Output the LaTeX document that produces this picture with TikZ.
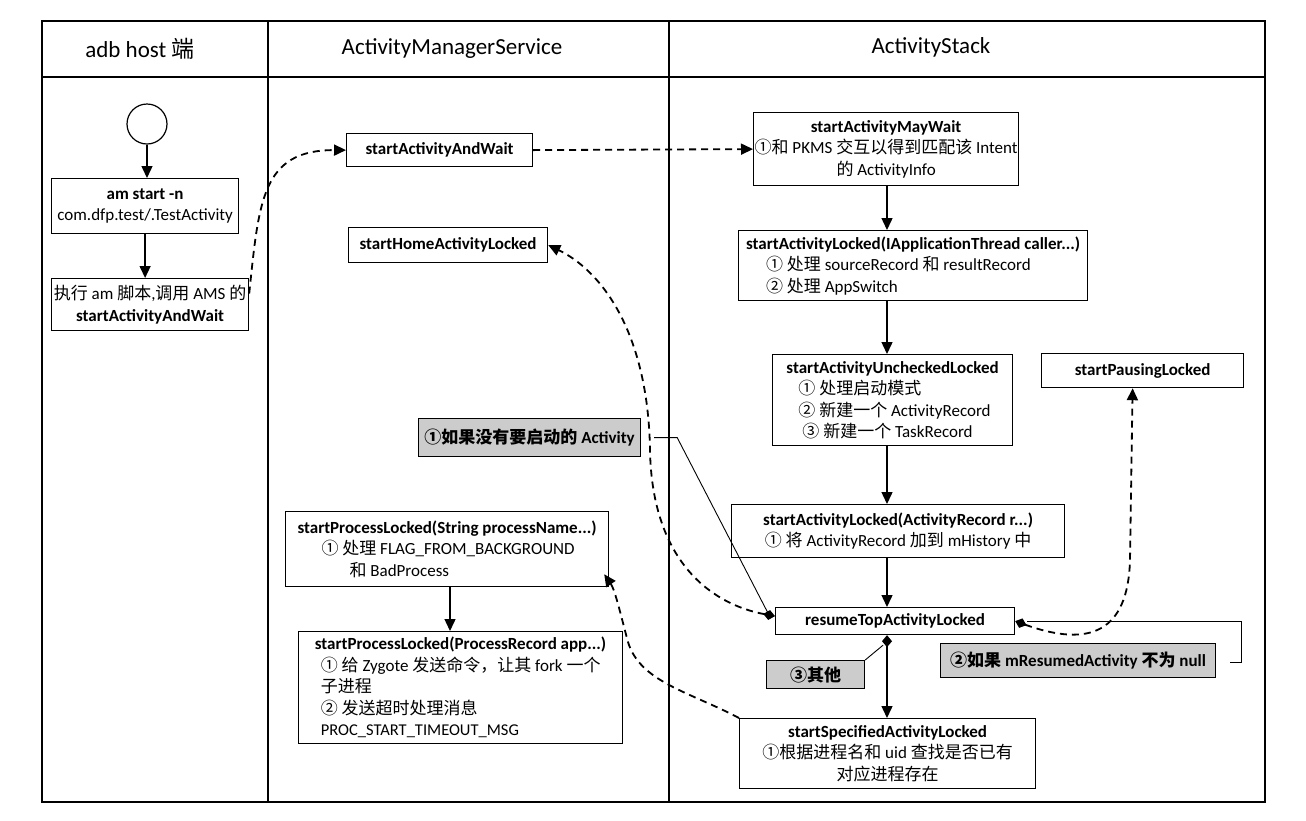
\documentclass[tikz,border=0pt]{standalone}
\usepackage{fontspec}
\setmainfont{Carlito}
\newfontfamily\cjk{Noto Sans CJK SC}
\newcommand\zh[1]{{\cjk #1}}
\newcommand\fsbox{\fontsize{17}{21.5}\selectfont}
\newcommand\fshead{\fontsize{23}{27}\selectfont}
\newcommand\fssmall{\fontsize{16.5}{21.5}\selectfont}
\usetikzlibrary{arrows.meta,calc}
\tikzset{
  tri/.tip={Triangle[length=12pt,width=11pt]},
  dm/.tip={Diamond[length=12pt,width=10pt]},
  box/.style={draw, line width=1.2pt, fill=white, inner sep=1pt, font=\fsbox, anchor=north west},
  note/.style={draw, line width=1.2pt, fill=gray!40, inner sep=1pt, font=\fsbox\bfseries, anchor=north west},
  arr/.style={line width=1.4pt, -tri},
  darr/.style={line width=1.8pt, dash pattern=on 7pt off 5pt, -tri},
  cline/.style={line width=0.9pt},
  lane/.style={line width=1.3pt},
}
\begin{document}
\begin{tikzpicture}[x=1pt,y=-1pt]
\useasboundingbox[fill=white] (0,0) rectangle (1306,820);
% swimlanes
\draw[lane] (42,21) rectangle (1265,802);
\draw[lane] (42,77) -- (1265,77);
\draw[lane] (268,21) -- (268,802);
\draw[lane] (669,21) -- (669,802);
\node[font=\fshead] (h1) at (140,49) {adb host \zh{端}};
\node[font=\fshead] (h2) at (452,49) {ActivityManagerService};
\node[font=\fshead] (h3) at (931,47) {ActivityStack};
\coordinate (ax) at (887,0);
\coordinate (bx) at (450,0);
% adb host lane
\node[draw, circle, line width=1.2pt, minimum size=40pt, inner sep=0pt] (start) at (147,124) {};
\node[box, align=center, minimum width=187pt, minimum height=55pt] (amstart) at (51,178)
  {\textbf{am start -n}\\com.dfp.test/.TestActivity};
\node[box, align=center, minimum width=197pt, minimum height=52pt] (exec) at (51,278)
  {\zh{执行} am \zh{脚本},\zh{调用} AMS \zh{的}\\\textbf{startActivityAndWait}};
% AMS lane
\node[box, minimum width=186pt, minimum height=33pt] (saw) at (346,133) {\textbf{startActivityAndWait}};
\node[box, minimum width=199pt, minimum height=35pt] (home) at (348,227) {\textbf{startHomeActivityLocked}};
\node[note, minimum width=222pt, minimum height=38pt] (note1) at (418,418) {\zh{①如果没有要启动的} Activity};
\node[box, align=left, minimum width=323pt, minimum height=75pt] (spl1) at (285,511)
  {\textbf{startProcessLocked(String processName...)}\\
   \hspace*{24pt}\zh{①} \zh{处理} FLAG\_FROM\_BACKGROUND\\
   \hspace*{52pt}\zh{和} BadProcess};
\node[box, align=left, minimum width=324pt, minimum height=112pt] (spl2) at (298,631)
  {\textbf{startProcessLocked(ProcessRecord app...)}\\
   \hspace*{6pt}\zh{①} \zh{给} Zygote \zh{发送命令，让其} fork \zh{一个}\\
   \hspace*{6pt}\zh{子进程}\\
   \hspace*{6pt}\zh{②} \zh{发送超时处理消息}\\
   \hspace*{6pt}{\fssmall PROC\_START\_TIMEOUT\_MSG}};
% ActivityStack lane
\node[box, align=center, minimum width=265pt, minimum height=73pt] (maywait) at (753,112)
  {\textbf{startActivityMayWait}\\\zh{①和} PKMS \zh{交互以得到匹配该} Intent\\\zh{的} ActivityInfo};
\node[box, align=left, minimum width=349pt, minimum height=70pt] (sal1) at (738,230)
  {\textbf{startActivityLocked(IApplicationThread caller...)}\\
   \hspace*{20pt}\zh{①} \zh{处理} sourceRecord \zh{和} resultRecord\\
   \hspace*{20pt}\zh{②} \zh{处理} AppSwitch};
\node[box, align=left, minimum width=240pt, minimum height=91pt] (sau) at (772,354)
  {\textbf{startActivityUncheckedLocked}\\
   \hspace*{12pt}\zh{① 处理启动模式}\\
   \hspace*{12pt}\zh{② 新建一个} ActivityRecord\\
   \hspace*{16pt}\zh{③ 新建一个} TaskRecord};
\node[box, minimum width=202pt, minimum height=34pt] (pausing) at (1041,353) {\textbf{startPausingLocked}};
\node[box, align=center, minimum width=333pt, minimum height=53pt] (sal2) at (731,504)
  {\textbf{startActivityLocked(ActivityRecord r...)}\\\zh{①} \zh{将} ActivityRecord \zh{加到} mHistory \zh{中}};
\node[box, minimum width=239pt, minimum height=27pt] (resume) at (775,607) {\textbf{resumeTopActivityLocked}};
\node[note, minimum width=98pt, minimum height=28pt] (note3) at (766,660) {\zh{③其他}};
\node[note, minimum width=275pt, minimum height=34pt] (note2) at (940,643) {\zh{②如果} mResumedActivity \zh{不为} null};
\node[box, align=center, minimum width=296pt, minimum height=70pt] (specified) at (739,718)
  {\textbf{startSpecifiedActivityLocked}\\\zh{①根据进程名和} uid \zh{查找是否已有}\\\zh{对应进程存在}};
% connectors
\draw[arr] (start.south) -- (start.south |- amstart.north);
\draw[arr] (amstart.south) -- (amstart.south |- exec.north);
\draw[darr] ($(exec.east)+(0,-11)$) .. controls (259,200) and (262,150) .. (saw.west);
\draw[darr] (saw.east) -- (maywait.west);
\draw[arr] (maywait.south -| ax) -- (sal1.north -| ax);
\draw[arr] (sal1.south -| ax) -- (sau.north -| ax);
\draw[arr] (sau.south -| ax) -- (sal2.north -| ax);
\draw[arr] (sal2.south -| ax) -- (resume.north -| ax);
\draw[arr, dm-tri] (resume.south -| ax) -- (specified.north -| ax);
\draw[darr, dm-tri] ($(resume.west)+(0,-5)$) .. controls (715,605) and (652,565) .. (650,450)
  .. controls (648,330) and (600,270) .. (home.east);
\draw[darr, dm-tri] (resume.east) .. controls (1090,648) and (1128,632) .. (1130,560)
  -- ($(pausing.south)+(-10,0)$);
\draw[darr] (specified.north west) .. controls (690,692) and (640,682) .. (628,642)
  .. controls (620,612) and (615,590) .. ($(spl1.south east)+(-5,-13)$);
\draw[arr] (spl1.south -| bx) -- (spl2.north -| bx);
\draw[cline] ($(note1.east)+(13,0)$) -- ($(note1.east)+(36,0)$) -- ($(resume.west)+(-7,-8)$);
\draw[cline] (note3.north east) -- ($(resume.south -| ax)+(-4,10)$);
\draw[cline] ($(resume.east)+(12,0)$) -- ($(resume.east -| note2.east)+(25,0)$)
  -- ($(note2.east)+(25,2)$) -- ($(note2.east)+(14,2)$);
\end{tikzpicture}
\end{document}
